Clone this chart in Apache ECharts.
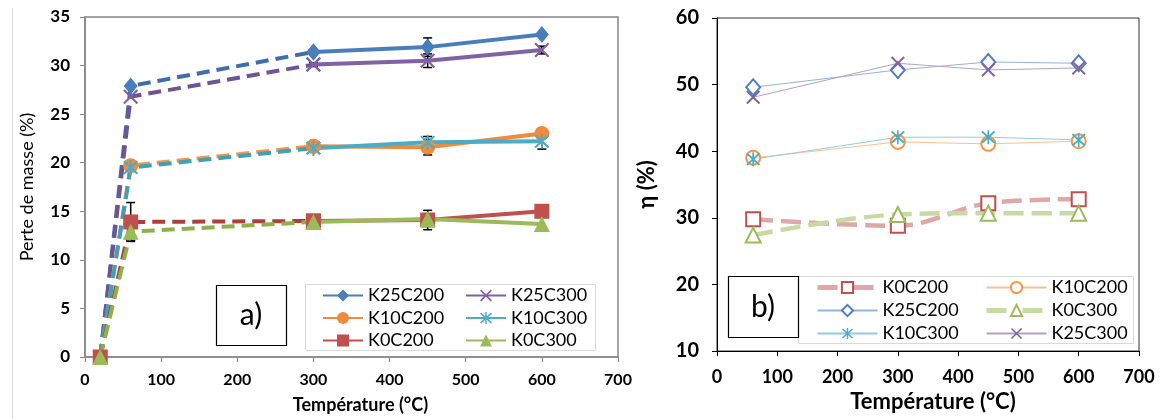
<!DOCTYPE html>
<html>
<head>
<meta charset="utf-8">
<script src="https://cdn.jsdelivr.net/npm/echarts@6/dist/echarts.min.js"></script>
<style>
html,body{margin:0;padding:0;background:#fff;}
#c{width:1161px;height:419px;}
</style>
</head>
<body>
<div id="c"></div>
<script>
// ---------- DATA ----------
// Chart a) : mass loss (%) vs temperature
const tempsA = [20, 60, 300, 450, 600];
const lossK25C200 = [0, 27.9, 31.4, 31.9, 33.2];
const lossK25C300 = [0, 26.8, 30.1, 30.5, 31.6];
const lossK10C200 = [0, 19.7, 21.7, 21.6, 23.0];
const lossK10C300 = [0, 19.5, 21.5, 22.1, 22.2];
const lossK0C200  = [0, 13.9, 14.0, 14.1, 15.0];
const lossK0C300  = [0, 12.9, 13.9, 14.2, 13.7];
// error bar half-widths (%)
const errK25C200 = [0, 0, 0, 0.95, 0];
const errK25C300 = [0, 0, 0.2, 0.7, 0.4];
const errK10C200 = [0, 0, 0.4, 0.8, 0];
const errK10C300 = [0, 0, 0.2, 0.6, 0.8];
const errK0C200  = [0, 2.0, 0, 1.0, 0];
const errK0C300  = [0, 0.9, 0, 0, 0];

// Chart b) : eta (%) vs temperature
const tempsB = [60, 300, 450, 600];
const etaK0C200  = [29.8, 28.8, 32.2, 32.8];
const etaK10C200 = [39.0, 41.4, 41.1, 41.5];
const etaK25C200 = [49.6, 52.2, 53.4, 53.2];
const etaK0C300  = [27.4, 30.5, 30.7, 30.7];
const etaK10C300 = [38.8, 42.1, 42.1, 41.7];
const etaK25C300 = [48.1, 53.2, 52.2, 52.5];

// ---------- STYLE ----------
const FONT = 'Lato, "Liberation Sans", sans-serif';
const xPath = 'path://M1,0 L5,4 L9,0 L10,1 L6,5 L10,9 L9,10 L5,6 L1,10 L0,9 L4,5 L0,1 Z';
const starPath = 'path://M1,0 L5,4 L9,0 L10,1 L6,5 L10,9 L9,10 L5,6 L1,10 L0,9 L4,5 L0,1 Z M4.4,-0.5 L5.6,-0.5 L5.6,10.5 L4.4,10.5 Z';

const seriesA = [
  {name:'K25C200', vals:lossK25C200, err:errK25C200, color:'#4A7EBB', dash:'#3E6DAA', symbol:'diamond', size:[14,17]},
  {name:'K25C300', vals:lossK25C300, err:errK25C300, color:'#7F62A3', dash:'#6E5492', symbol:xPath, size:15},
  {name:'K10C200', vals:lossK10C200, err:errK10C200, color:'#F08A3C', dash:'#F7964A', symbol:'circle', size:15},
  {name:'K10C300', vals:lossK10C300, err:errK10C300, color:'#4BACC6', dash:'#3FA0B8', symbol:starPath, size:15},
  {name:'K0C200',  vals:lossK0C200,  err:errK0C200,  color:'#C0504D', dash:'#A8403E', symbol:'rect', size:15},
  {name:'K0C300',  vals:lossK0C300,  err:errK0C300,  color:'#9BBB59', dash:'#8DB04A', symbol:'triangle', size:16}
];

const seriesB = [
  {name:'K0C200',  vals:etaK0C200,  color:'#C0504D', line:'#DFA7A6', symbol:'emptyRect', size:14, dashed:true, bw:2.5},
  {name:'K10C200', vals:etaK10C200, color:'#F79646', line:'#FAC090', symbol:'emptyCircle', size:14, dashed:false, bw:2.5},
  {name:'K25C200', vals:etaK25C200, color:'#4F81BD', line:'#95B3D7', symbol:'emptyDiamond', size:[14,16], dashed:false, bw:2.5},
  {name:'K0C300',  vals:etaK0C300,  color:'#9BBB59', line:'#C8DAA4', symbol:'emptyTriangle', size:15, dashed:true, bw:2.5},
  {name:'K10C300', vals:etaK10C300, color:'#4BACC6', line:'#93CDDD', symbol:starPath, size:14, dashed:false},
  {name:'K25C300', vals:etaK25C300, color:'#8064A2', line:'#B3A2C7', symbol:xPath, size:14, dashed:false}
];

const series = [];
// Chart a) solid parts (first so that legends use them)
seriesA.forEach(s => {
  series.push({
    type:'line', name:s.name, xAxisIndex:0, yAxisIndex:0,
    data: tempsA.slice(2).map((t,i)=>[t, s.vals[i+2]]),
    symbol:s.symbol, symbolSize:s.size, showSymbol:true,
    lineStyle:{color:s.color, width:4},
    itemStyle:{color:s.color, borderWidth:0},
    z:3
  });
});
// Chart a) dashed parts
seriesA.forEach(s => {
  series.push({
    type:'line', name:s.name + '_d', xAxisIndex:0, yAxisIndex:0,
    data: tempsA.slice(0,3).map((t,i)=>[t, s.vals[i]]),
    symbol:s.symbol, symbolSize:s.size,
    lineStyle:{color:s.dash, width:4, type:[13,7]},
    itemStyle:{color:s.color, borderWidth:0},
    z:2
  });
});
// Chart a) error bars (behind the lines and markers)
seriesA.forEach(s => {
  const d = [];
  tempsA.forEach((t,i)=>{ if (s.err[i] > 0) d.push([t, s.vals[i]-s.err[i], s.vals[i]+s.err[i]]); });
  series.push({
    type:'custom', name:s.name + '_e', xAxisIndex:0, yAxisIndex:0, z:1,
    data:d,
    renderItem:function(params, api){
      const x = api.value(0);
      const p1 = api.coord([x, api.value(1)]);
      const p2 = api.coord([x, api.value(2)]);
      const st = {stroke:'#000', lineWidth:1.5};
      return {type:'group', children:[
        {type:'line', shape:{x1:p1[0], y1:p1[1], x2:p2[0], y2:p2[1]}, style:st},
        {type:'line', shape:{x1:p1[0]-4.5, y1:p1[1], x2:p1[0]+4.5, y2:p1[1]}, style:st},
        {type:'line', shape:{x1:p2[0]-4.5, y1:p2[1], x2:p2[0]+4.5, y2:p2[1]}, style:st}
      ]};
    }
  });
});
// Chart b)
seriesB.forEach(s => {
  series.push({
    type:'line', name:'b:' + s.name, xAxisIndex:1, yAxisIndex:1,
    data: tempsB.map((t,i)=>[t, s.vals[i]]),
    symbol:s.symbol, symbolSize:s.size,
    smooth: s.dashed ? 0.35 : false,
    lineStyle: s.dashed ? {color:s.line, width:4.5, type:[20,8]} : {color:s.line, width:1},
    itemStyle:{color:s.color, borderColor:s.color, borderWidth: s.bw || 0},
    z: s.dashed ? 2 : 3
  });
});

const axisTextA = {color:'#000', fontFamily:FONT, fontWeight:'bold'};
const legendText = {fontFamily:FONT, fontSize:18, color:'#000', lineHeight:17};
const dashedLegendLine = {width:5, type:[20,16]};

const option = {
  animation:false,
  backgroundColor:'#fff',
  grid:[
    {left:85, top:17, width:533, height:343, show:true, borderColor:'#868686', borderWidth:1.5, backgroundColor:'transparent'},
    {left:717, top:18, width:422, height:333, show:true, borderColor:'#333', borderWidth:1, backgroundColor:'transparent'}
  ],
  xAxis:[
    {type:'value', gridIndex:0, min:0, max:700, interval:100,
     name:'Température (°C)', nameLocation:'middle', nameGap:39,
     nameTextStyle:{fontFamily:FONT, fontWeight:'bold', fontSize:18, color:'#000', padding:[0,0,0,18]},
     axisLine:{lineStyle:{color:'#868686', width:1.5}},
     axisTick:{inside:false, length:5, lineStyle:{color:'#868686'}},
     axisLabel:Object.assign({fontSize:16, margin:15}, axisTextA),
     splitLine:{show:false}},
    {type:'value', gridIndex:1, min:0, max:700, interval:100,
     name:'Température (°C)', nameLocation:'middle', nameGap:37,
     nameTextStyle:{fontFamily:FONT, fontWeight:'bold', fontSize:22, color:'#000', padding:[0,0,0,10]},
     axisLine:{lineStyle:{color:'#000', width:1}},
     axisTick:{inside:false, length:5, lineStyle:{color:'#000'}},
     axisLabel:Object.assign({fontSize:18, margin:17}, axisTextA),
     splitLine:{show:false}}
  ],
  yAxis:[
    {type:'value', gridIndex:0, min:0, max:35, interval:5,
     name:'Perte de masse (%)', nameLocation:'middle', nameGap:49, nameRotate:90,
     nameTextStyle:{fontFamily:FONT, fontSize:18, color:'#000'},
     axisLine:{show:true, lineStyle:{color:'#868686', width:1.5}},
     axisTick:{show:true, length:5, lineStyle:{color:'#868686'}},
     axisLabel:Object.assign({fontSize:17, margin:15}, axisTextA),
     splitLine:{show:false}},
    {type:'value', gridIndex:1, min:10, max:60, interval:10,
     name:'η (%)', nameLocation:'middle', nameGap:59, nameRotate:90,
     nameTextStyle:{fontFamily:FONT, fontSize:22, fontWeight:'bold', color:'#000'},
     axisLine:{show:true, lineStyle:{color:'#000', width:1}},
     axisTick:{show:true, length:5, lineStyle:{color:'#000'}},
     axisLabel:Object.assign({fontSize:20, margin:18}, axisTextA),
     splitLine:{show:false}}
  ],
  legend:[
    {data:['K25C200','K10C200','K0C200'], orient:'vertical', left:322, top:286.5, padding:0,
     itemWidth:40, itemHeight:15, itemGap:4.5, textStyle:legendText, selectedMode:false, z:20},
    {data:['K25C300','K10C300','K0C300'], orient:'vertical', left:465, top:286.5, padding:0,
     itemWidth:40, itemHeight:15, itemGap:4.5, textStyle:legendText, selectedMode:false, z:20},
    {data:[{name:'b:K0C200', lineStyle:dashedLegendLine},'b:K25C200','b:K10C300'], orient:'vertical', left:815, top:278.5, padding:0,
     itemWidth:60, itemHeight:14, itemGap:5, textStyle:legendText, selectedMode:false, z:20,
     formatter:n=>n.replace('b:','')},
    {data:['b:K10C200',{name:'b:K0C300', lineStyle:dashedLegendLine},'b:K25C300'], orient:'vertical', left:984, top:278.5, padding:0,
     itemWidth:60, itemHeight:14, itemGap:5, textStyle:legendText, selectedMode:false, z:20,
     formatter:n=>n.replace('b:','')}
  ],
  graphic:[
    {type:'line', shape:{x1:12.5, y1:8, x2:12.5, y2:419}, style:{stroke:'#D9D9D9', lineWidth:1}, z:0},
    {type:'rect', shape:{x:305.5, y:284.5, width:290, height:66}, style:{fill:'#fff', stroke:'#D9D9D9', lineWidth:1}, z:10},
    {type:'rect', shape:{x:216.5, y:285.5, width:70, height:60}, style:{fill:'#fff', stroke:'#000', lineWidth:1.2}, z:10},
    {type:'text', x:251, y:315, style:{text:'a)', font:'30px ' + FONT, fill:'#000', align:'center', verticalAlign:'middle', textAlign:'center', textVerticalAlign:'middle'}, z:11},
    {type:'rect', shape:{x:798.5, y:276.5, width:335, height:67}, style:{fill:'#fff', stroke:'#D9D9D9', lineWidth:1}, z:10},
    {type:'rect', shape:{x:728.5, y:276.5, width:70, height:61}, style:{fill:'#fff', stroke:'#000', lineWidth:1.2}, z:11},
    {type:'text', x:763, y:307, style:{text:'b)', font:'30px ' + FONT, fill:'#000', align:'center', verticalAlign:'middle', textAlign:'center', textVerticalAlign:'middle'}, z:12}
  ],
  series:series
};

const chart = echarts.init(document.getElementById('c'), null, {renderer:'canvas'});
chart.setOption(option);
</script>
</body>
</html>
